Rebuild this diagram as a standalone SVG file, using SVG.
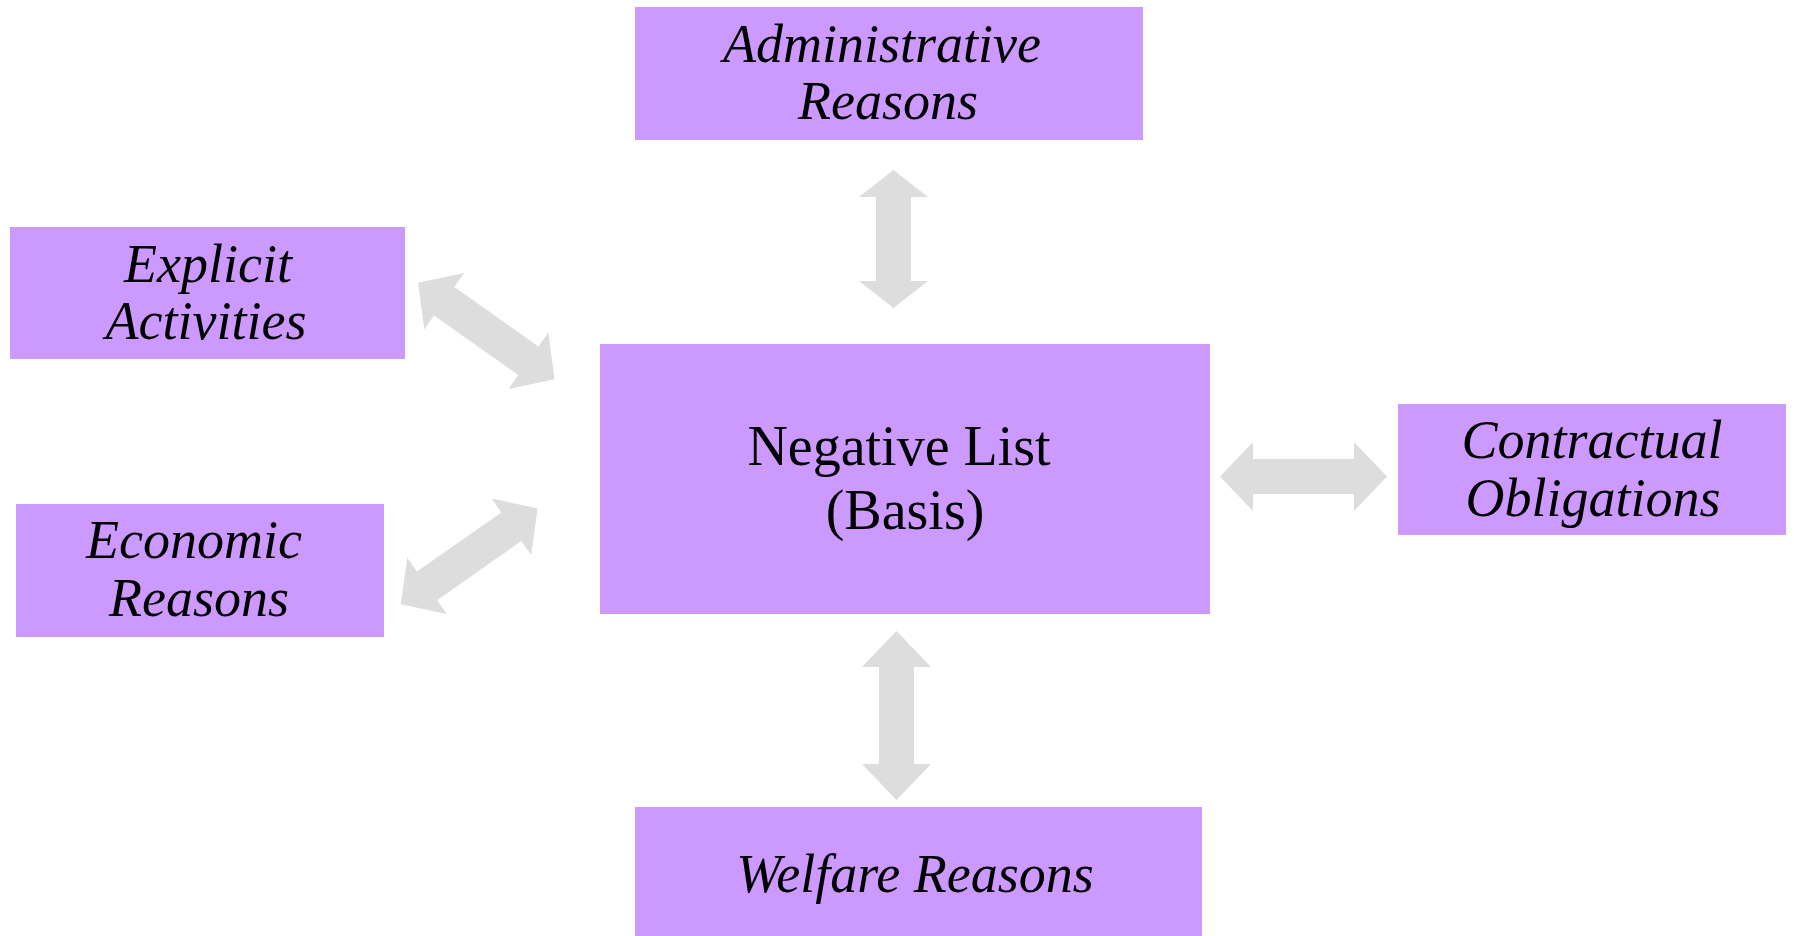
<svg xmlns="http://www.w3.org/2000/svg" width="1794" height="936" viewBox="0 0 1794 936">
<style>
.box{fill:#CC99FF}
.arr{fill:#DDDDDD}
.it{font-family:"Liberation Serif","Times New Roman",serif;font-style:italic;font-size:54px;fill:#000;text-anchor:middle}
.rg{font-family:"Liberation Serif","Times New Roman",serif;font-size:56px;fill:#000;text-anchor:middle}
</style>
<rect width="1794" height="936" fill="#FFFFFF"/>
<g id="connectors">
<path class="arr" transform="translate(893.5,239) rotate(90)" d="M-69,0 L-42,-34.5 L-42,-17.5 L42,-17.5 L42,-34.5 L69,0 L42,34.5 L42,17.5 L-42,17.5 L-42,34.5 Z"/>
<path class="arr" transform="translate(896.5,715.5) rotate(90)" d="M-84.5,0 L-48.5,-34.5 L-48.5,-17.5 L48.5,-17.5 L48.5,-34.5 L84.5,0 L48.5,34.5 L48.5,17.5 L-48.5,17.5 L-48.5,34.5 Z"/>
<path class="arr" transform="translate(1303.5,476.5)" d="M-83.5,0 L-50.5,-34.5 L-50.5,-17.5 L50.5,-17.5 L50.5,-34.5 L83.5,0 L50.5,34.5 L50.5,17.5 L-50.5,17.5 L-50.5,34.5 Z"/>
<path class="arr" transform="translate(486.3,331) rotate(35.2)" d="M-83.5,0 L-51.5,-34.5 L-51.5,-17.5 L51.5,-17.5 L51.5,-34.5 L83.5,0 L51.5,34.5 L51.5,17.5 L-51.5,17.5 L-51.5,34.5 Z"/>
<path class="arr" transform="translate(469.2,556.3) rotate(-35)" d="M-83.5,0 L-51.5,-34.5 L-51.5,-17.5 L51.5,-17.5 L51.5,-34.5 L83.5,0 L51.5,34.5 L51.5,17.5 L-51.5,17.5 L-51.5,34.5 Z"/>
</g>
<g id="node-administrative">
<rect class="box" x="635" y="7" width="508" height="133"/>
<text class="it" x="882" y="62">Administrative</text>
<text class="it" x="888" y="119">Reasons</text>
</g>
<g id="node-explicit">
<rect class="box" x="10" y="227" width="395" height="132"/>
<text class="it" x="208" y="282">Explicit</text>
<text class="it" x="206" y="339">Activities</text>
</g>
<g id="node-economic">
<rect class="box" x="16" y="504" width="368" height="133"/>
<text class="it" x="194" y="558">Economic</text>
<text class="it" x="199" y="616">Reasons</text>
</g>
<g id="node-negative">
<rect class="box" x="600" y="344" width="610" height="270"/>
<text class="rg" x="899" y="465">Negative List</text>
<text class="rg" x="905" y="529">(Basis)</text>
</g>
<g id="node-contractual">
<rect class="box" x="1398" y="404" width="388" height="131"/>
<text class="it" x="1592" y="458">Contractual</text>
<text class="it" x="1593" y="516">Obligations</text>
</g>
<g id="node-welfare">
<rect class="box" x="635" y="807" width="567" height="129"/>
<text class="it" x="915" y="892">Welfare Reasons</text>
</g>
</svg>
